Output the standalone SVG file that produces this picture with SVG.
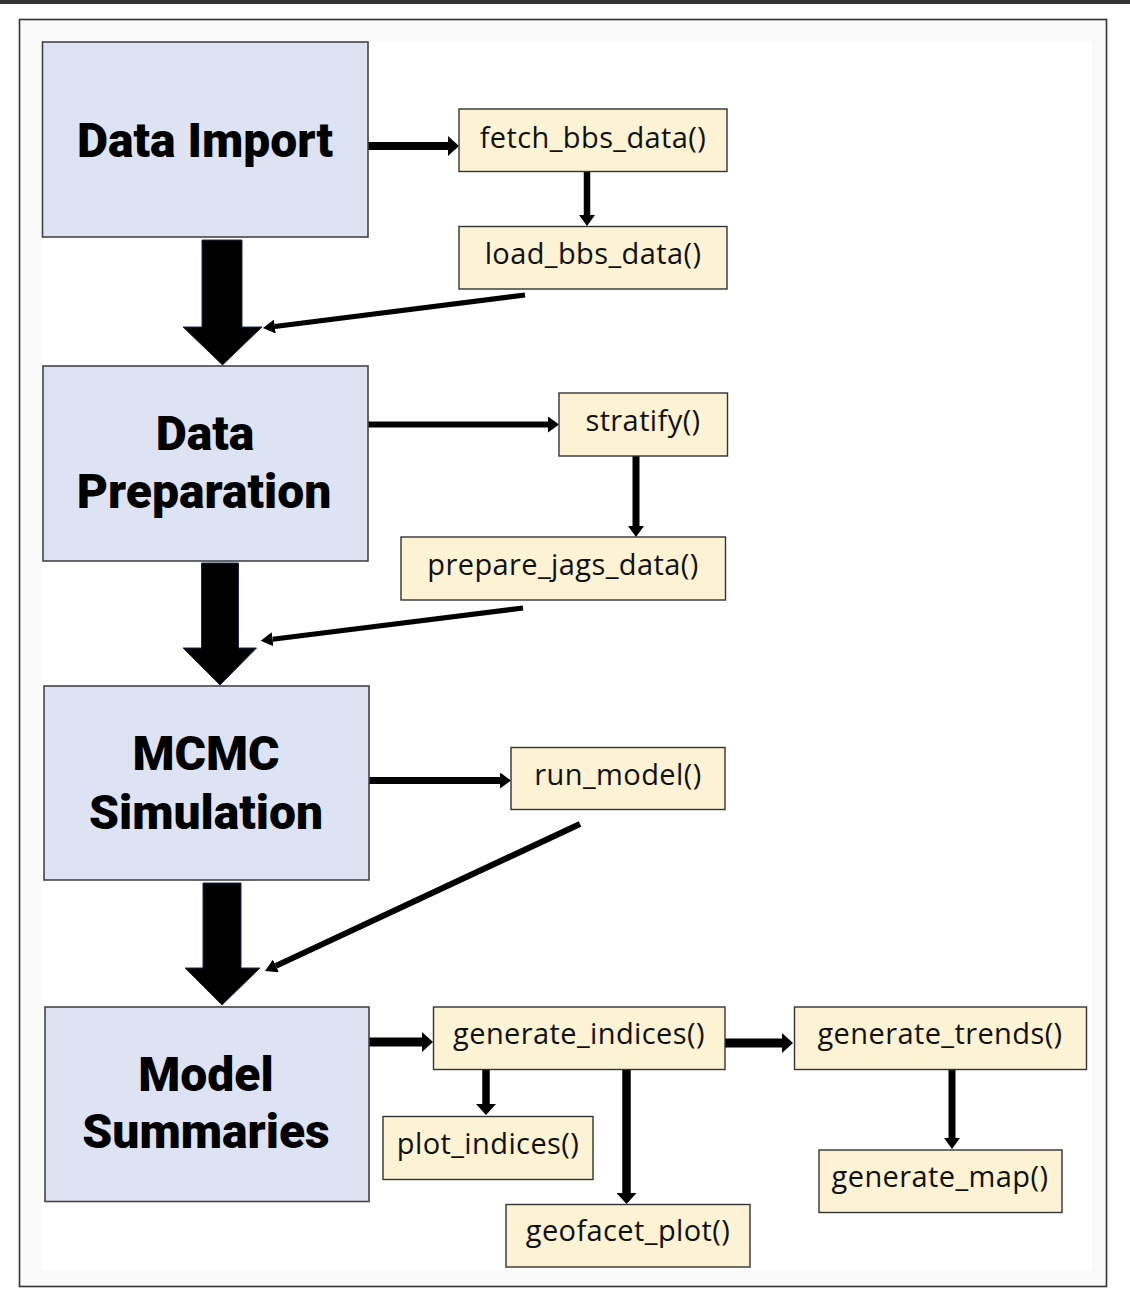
<svg xmlns="http://www.w3.org/2000/svg" width="1130" height="1301" viewBox="0 0 1130 1301">
<defs>
<style>
.big{fill:#dde3f3;stroke:#444;stroke-width:1.6}
.fn{fill:#fbf3d4;stroke:#333;stroke-width:1.4}
.bt{font-family:Roboto,"Liberation Sans",sans-serif;font-weight:900;font-size:48px;fill:#000;text-anchor:middle}
.ft{font-family:"Open Sans","DejaVu Sans",sans-serif;font-size:29px;letter-spacing:0.4px;fill:#111;text-anchor:middle}
.ln{stroke:#000;fill:none}
.blk{fill:#000;stroke:#1c2a4a;stroke-width:1}
</style>
<marker id="hb" markerUnits="userSpaceOnUse" markerWidth="11" markerHeight="20" viewBox="0 0 11 20" refX="0" refY="10" orient="auto"><path d="M0,0 L11,10 L0,20 z" fill="#000"/></marker>
<marker id="hm" markerUnits="userSpaceOnUse" markerWidth="11" markerHeight="16" viewBox="0 0 11 16" refX="0" refY="8" orient="auto"><path d="M0,0 L11,8 L0,16 z" fill="#000"/></marker>
<marker id="hd" markerUnits="userSpaceOnUse" markerWidth="12" markerHeight="14" viewBox="0 0 12 14" refX="0" refY="7" orient="auto"><path d="M0,0 L12,7 L0,14 z" fill="#000"/></marker>
</defs>
<rect x="0" y="0" width="1130" height="1301" fill="#ffffff"/>
<rect x="0" y="0" width="1130" height="4" fill="#333"/>
<rect x="19.5" y="19.5" width="1087" height="1267" fill="#fafafa" stroke="#333" stroke-width="1.6"/>
<rect x="42" y="41" width="1050" height="1230" fill="#ffffff"/>

<g id="connectors">
<polygon class="blk" points="202,240 242,240 242,327 262,327 222.5,365 183,327 202,327"/>
<polygon class="blk" points="201.5,563 238.5,563 238.5,648 256.5,648 220,685 183,648 201.5,648"/>
<polygon class="blk" points="203,883 241,883 241,968 260,968 222,1005 185,968 203,968"/>
<line class="ln" x1="368" y1="146" x2="448" y2="146" stroke-width="8" marker-end="url(#hb)"/>
<line class="ln" x1="587" y1="171" x2="587" y2="215" stroke-width="6.5" marker-end="url(#hm)"/>
<line class="ln" x1="525" y1="295" x2="274.9" y2="326.5" stroke-width="5" marker-end="url(#hd)"/>
<line class="ln" x1="368" y1="424.5" x2="548" y2="424.5" stroke-width="6" marker-end="url(#hm)"/>
<line class="ln" x1="636" y1="456" x2="636" y2="526" stroke-width="7" marker-end="url(#hm)"/>
<line class="ln" x1="523" y1="608" x2="272.6" y2="639.2" stroke-width="5" marker-end="url(#hd)"/>
<line class="ln" x1="369" y1="780.5" x2="500" y2="780.5" stroke-width="7" marker-end="url(#hm)"/>
<line class="ln" x1="580" y1="824" x2="275.9" y2="965.9" stroke-width="6" marker-end="url(#hd)"/>
<line class="ln" x1="369" y1="1042" x2="422" y2="1042" stroke-width="9" marker-end="url(#hb)"/>
<line class="ln" x1="725" y1="1043" x2="782" y2="1043" stroke-width="9" marker-end="url(#hb)"/>
<line class="ln" x1="486" y1="1069" x2="486" y2="1104" stroke-width="7.5" marker-end="url(#hb)"/>
<line class="ln" x1="626.5" y1="1069" x2="626.5" y2="1193" stroke-width="8.5" marker-end="url(#hb)"/>
<line class="ln" x1="952" y1="1069" x2="952" y2="1138" stroke-width="7" marker-end="url(#hm)"/>
</g>

<g id="data-import"><rect class="big" x="42.5" y="42" width="325.5" height="195"/><text class="bt" x="205" y="157">Data Import</text></g>
<g id="data-preparation"><rect class="big" x="43" y="366" width="325" height="195"/><text class="bt" x="205" y="450">Data</text><text class="bt" x="204" y="508">Preparation</text></g>
<g id="mcmc-simulation"><rect class="big" x="44" y="686" width="325" height="194"/><text class="bt" x="206" y="770">MCMC</text><text class="bt" x="206" y="829">Simulation</text></g>
<g id="model-summaries"><rect class="big" x="45" y="1007" width="324" height="194.5"/><text class="bt" x="206" y="1091">Model</text><text class="bt" x="206" y="1148">Summaries</text></g>

<g id="fetch-bbs-data"><rect class="fn" x="459" y="109" width="268" height="62.5"/><text class="ft" x="593" y="148">fetch_bbs_data()</text></g>
<g id="load-bbs-data"><rect class="fn" x="459" y="226.5" width="268" height="62.5"/><text class="ft" x="593" y="264">load_bbs_data()</text></g>
<g id="stratify"><rect class="fn" x="559" y="393" width="168.5" height="63"/><text class="ft" x="643" y="431">stratify()</text></g>
<g id="prepare-jags-data"><rect class="fn" x="401" y="537" width="324.5" height="63"/><text class="ft" x="563" y="575">prepare_jags_data()</text></g>
<g id="run-model"><rect class="fn" x="511" y="747.5" width="214" height="62"/><text class="ft" x="618" y="785">run_model()</text></g>
<g id="generate-indices"><rect class="fn" x="433.5" y="1007" width="291.5" height="62.5"/><text class="ft" x="579" y="1044">generate_indices()</text></g>
<g id="plot-indices"><rect class="fn" x="383" y="1116.5" width="210" height="63"/><text class="ft" x="488" y="1154">plot_indices()</text></g>
<g id="geofacet-plot"><rect class="fn" x="506" y="1204.5" width="244" height="62.5"/><text class="ft" x="628" y="1241">geofacet_plot()</text></g>
<g id="generate-trends"><rect class="fn" x="794.5" y="1007" width="292" height="62.5"/><text class="ft" x="940" y="1044">generate_trends()</text></g>
<g id="generate-map"><rect class="fn" x="819" y="1150" width="243" height="62.5"/><text class="ft" x="940" y="1187">generate_map()</text></g>
</svg>
